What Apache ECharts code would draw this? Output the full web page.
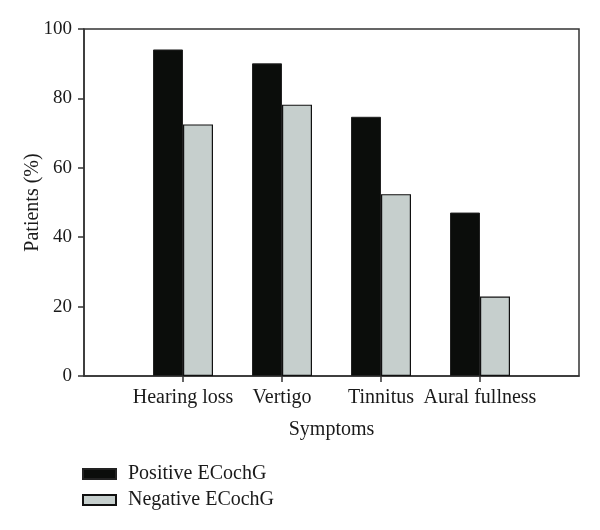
<!DOCTYPE html>
<html>
<head>
<meta charset="utf-8">
<script src="https://cdn.jsdelivr.net/npm/echarts@6/dist/echarts.min.js"></script>
<style>html,body{margin:0;padding:0;background:#fff;}#c{width:600px;height:530px;}</style>
</head>
<body>
<div id="c"></div>
<script>
var categories = ['Hearing loss', 'Vertigo', 'Tinnitus', 'Aural fullness'];
var positiveValues = [94.1, 90.1, 74.7, 47.1];
var negativeValues = [72.5, 78.2, 52.4, 22.9];
var seriesNames = ['Positive ECochG', 'Negative ECochG'];
var yTicks = [0, 20, 40, 60, 80, 100];

var FONT = '"Liberation Serif", "DejaVu Serif", serif';
function pairs(vals) { return vals.map(function (v, i) { return [i + 1, v]; }); }
var catPositions = categories.map(function (c, i) { return i + 1; });

var chart = echarts.init(document.getElementById('c'), null, { renderer: 'canvas' });
chart.setOption({
  animation: false,
  backgroundColor: '#fff',
  textStyle: { fontFamily: FONT },
  legend: {
    orient: 'vertical', left: 82, top: 464, padding: 0,
    itemWidth: 33, itemHeight: 10, itemGap: 6,
    icon: 'rect',
    textStyle: { fontFamily: FONT, fontSize: 20, color: '#1a1a1a', padding: [0, 0, 0, 7] },
    data: seriesNames
  },
  grid: { left: 84, top: 29, right: 21, bottom: 154, show: true, borderColor: '#333', borderWidth: 1.5, containLabel: false },
  xAxis: {
    type: 'value', min: 0, max: 5, interval: 1,
    name: 'Symptoms', nameLocation: 'middle', nameGap: 44, nameMoveOverlap: false,
    nameTextStyle: { fontFamily: FONT, fontSize: 20, color: '#1a1a1a' },
    axisLine: { show: true, lineStyle: { color: '#333', width: 1.5 } },
    axisTick: { show: true, length: 6, customValues: catPositions, lineStyle: { color: '#333', width: 1.5 } },
    axisLabel: { customValues: catPositions, margin: 12, fontFamily: FONT, fontSize: 20, color: '#1a1a1a',
      formatter: function (v) { return categories[Math.round(v) - 1] || ''; } },
    splitLine: { show: false }
  },
  yAxis: {
    type: 'value', min: 0, max: 100, interval: 20,
    name: 'Patients (%)', nameLocation: 'middle', nameGap: 41, nameRotate: 90, nameMoveOverlap: false,
    nameTextStyle: { fontFamily: FONT, fontSize: 20, color: '#1a1a1a' },
    axisLine: { show: true, lineStyle: { color: '#333', width: 1.5 } },
    axisTick: { show: true, length: 6, lineStyle: { color: '#333', width: 1.5 } },
    axisLabel: { margin: 12, fontFamily: FONT, fontSize: 19, color: '#1a1a1a',
      formatter: function (v) { return yTicks.indexOf(v) >= 0 ? String(v) : ''; } },
    splitLine: { show: false }
  },
  series: [
    { name: seriesNames[0], type: 'bar', barWidth: 30, barGap: '0%', data: pairs(positiveValues),
      itemStyle: { color: '#0b0d0b', borderColor: '#222', borderWidth: 1 } },
    { name: seriesNames[1], type: 'bar', barWidth: 30, barGap: '0%', data: pairs(negativeValues),
      itemStyle: { color: '#c6cfcd', borderColor: '#111', borderWidth: 1.2 } }
  ]
});
</script>
</body>
</html>
